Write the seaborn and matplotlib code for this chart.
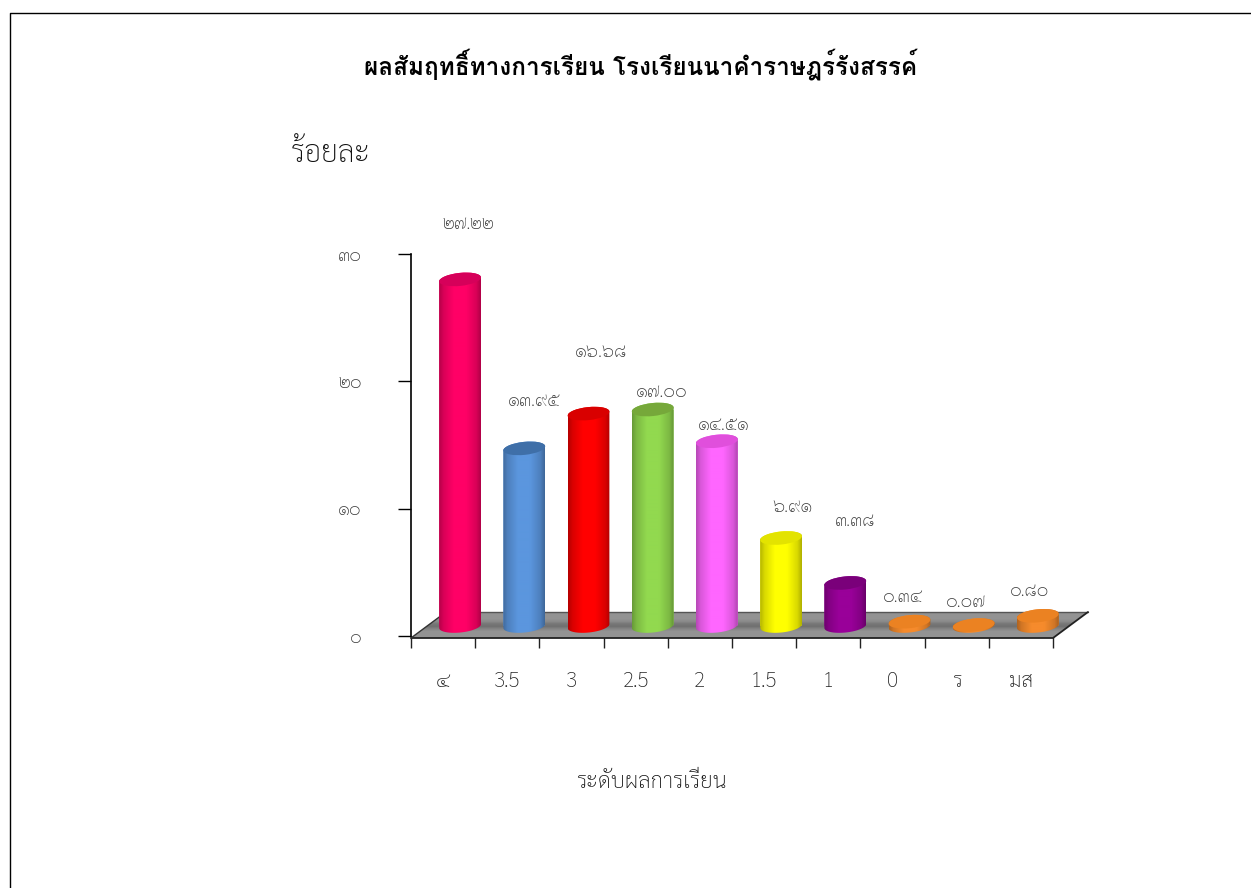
import matplotlib
matplotlib.use('Agg')
import numpy as np
import pandas as pd
import matplotlib.pyplot as plt
import seaborn as sns
from matplotlib.colors import to_rgb
from matplotlib.lines import Line2D
from matplotlib.patches import Ellipse
from matplotlib.path import Path
from matplotlib.ticker import FixedLocator
from matplotlib.transforms import Affine2D, IdentityTransform

grades = ['๔', '3.5', '3', '2.5', '2', '1.5', '1', '0', 'ร', 'มส']
percent = [27.22, 13.95, 16.68, 17.00, 14.51, 6.91, 3.38, 0.34, 0.07, 0.80]
colors = ['#FF0066', '#5B96DE', '#FF0000', '#92D94F', '#FF66FF',
          '#FFFF00', '#990099', '#F68B2C', '#F68B2C', '#F68B2C']
top_colors = ['#D6005A', '#3F6FA8', '#D90000', '#76A83A', '#E04FDC',
              '#E3E300', '#7A007A', '#EB8222', '#EB8222', '#EB8222']
y_ticks = [0, 10, 20, 30]
title = 'ผลสัมฤทธิ์ทางการเรียน โรงเรียนนาคำราษฎร์รังสรรค์'
y_title = 'ร้อยละ'
x_title = 'ระดับผลการเรียน'

# label offsets in pixels from the bar value, the original places them by hand
label_dx = [25, 27, 29, 26, 24, 28, 27, 10, 9, 9]
label_dy = [65, 57, 71, 27, 26, 41, 71, 34, 33, 34]

W, H = 1251, 888
FONT = ['Loma', 'DejaVu Sans']
THIN = ['Sarabun', 'DejaVu Sans']
BAR_DX, BAR_DY = 17, 10      # 3D shift of the bars
DEPTH_X, DEPTH_Y = 35, 26    # depth of the floor
CAP_H = 13
TILT = 6

thai_digits = str.maketrans('0123456789', '๐๑๒๓๔๕๖๗๘๙')


def thai(text):
    return text.translate(thai_digits)


sns.set_style('ticks')
plt.rcParams['font.family'] = FONT

df = pd.DataFrame({'grade': grades, 'percent': percent})

fig = plt.figure(figsize=(W / 100, H / 100), dpi=100, facecolor='white')
ax = fig.add_axes([411 / W, 1 - 636 / H, 642 / W, 382 / H])
sns.barplot(data=df, x='grade', y='percent', hue='grade', palette=colors,
            width=0.654, saturation=1, legend=False, ax=ax)
ax.set_xlim(-0.5, len(grades) - 0.5)
ax.set_ylim(0, 30)


def gradient(rgb, x0, x1, y0, y1, clip, zorder):
    im = ax.imshow(rgb, extent=(x0, x1, y0, y1), aspect='auto', origin='upper',
                   transform=IdentityTransform(), zorder=zorder,
                   interpolation='bilinear')
    im.set_clip_box(fig.bbox)
    im.set_clip_path(Path(clip), IdentityTransform())
    return im


# floor
fx0, fy0 = ax.transData.transform((-0.5, 0))
fx1, _ = ax.transData.transform((len(grades) - 0.5, 0))
fy0 -= 2
floor = [(fx0, fy0), (fx1, fy0), (fx1 + DEPTH_X, fy0 + DEPTH_Y), (fx0 + DEPTH_X, fy0 + DEPTH_Y)]
band = np.array([0.58, 0.58, 0.58, 0.55, 0.47, 0.44, 0.52, 0.58, 0.58, 0.58]).reshape(-1, 1)
gradient(np.repeat(band, 3, axis=1).reshape(-1, 1, 3), fx0, fx1 + DEPTH_X, fy0, fy0 + DEPTH_Y,
         floor + [floor[0]], 1)
line_kw = dict(transform=IdentityTransform(), clip_on=False, zorder=1.2)
ax.add_line(Line2D([floor[3][0], floor[2][0]], [floor[3][1], floor[2][1]], color='#555555', lw=1, **line_kw))
ax.add_line(Line2D([floor[0][0], floor[1][0], floor[2][0]], [floor[0][1], floor[1][1], floor[2][1]],
                   color='#222222', lw=1.3, **line_kw))
ax.add_line(Line2D([floor[0][0], floor[3][0]], [floor[0][1], floor[3][1]], color='#333333', lw=1, **line_kw))

# turn the flat bars into cylinders
theta = np.radians(TILT)
shade = np.interp(np.linspace(0, 1, 42), [0, 0.1, 0.35, 0.65, 0.9, 1], [0.72, 0.85, 1, 1, 0.85, 0.7])
for i, bar in enumerate(ax.patches):
    bar.set_edgecolor('none')
    bar.set_transform(ax.transData + Affine2D().translate(BAR_DX, BAR_DY))
    bar.set_zorder(2)
    (x0, y0) = ax.transData.transform((bar.get_x(), 0))
    (x1, y1) = ax.transData.transform((bar.get_x() + bar.get_width(), bar.get_height()))
    x0, x1 = x0 + BAR_DX, x1 + BAR_DX
    y0, y1 = y0 + BAR_DY, y1 + BAR_DY
    cx = (x0 + x1) / 2
    a, b = (x1 - x0) / 2, CAP_H / 2
    t_low = np.linspace(np.pi, 2 * np.pi, 40)
    t_top = np.linspace(0, np.pi, 40)
    low = np.column_stack([cx + a * np.cos(t_low) * np.cos(theta) - b * np.sin(t_low) * np.sin(theta),
                           y0 + a * np.cos(t_low) * np.sin(theta) + b * np.sin(t_low) * np.cos(theta)])
    top = np.column_stack([cx + a * np.cos(t_top) * np.cos(theta) - b * np.sin(t_top) * np.sin(theta),
                           y1 + a * np.cos(t_top) * np.sin(theta) + b * np.sin(t_top) * np.cos(theta)])
    outline = np.vstack([low, top, low[:1]])
    bar.set_clip_box(fig.bbox)
    bar.set_clip_path(Path(outline), IdentityTransform())
    rgb = np.array(to_rgb(colors[i]))
    body = (shade[:, None] * rgb)[None, :, :]
    gradient(body, x0, x1, y0 - CAP_H, y1 + CAP_H, outline, 2 + i * 0.01)
    ax.add_patch(Ellipse((cx, y1), 2 * a, CAP_H, angle=TILT, facecolor=top_colors[i],
                         edgecolor='none', transform=IdentityTransform(),
                         clip_on=False, zorder=2.005 + i * 0.01))

# axes
for side in ['top', 'right', 'bottom']:
    ax.spines[side].set_visible(False)
ax.spines['left'].set_color('black')
ax.spines['left'].set_linewidth(1.2)
ax.set_facecolor('none')
ax.set_xlabel('')
ax.set_ylabel('')
ax.set_yticks(y_ticks, [thai(str(t)) for t in y_ticks], fontsize=13, color='#333333',
              family=THIN, fontweight='light')
ax.tick_params(axis='y', length=9.5, width=1, pad=26, color='black')
ax.set_xticks(range(len(grades)), grades, fontsize=15, color='#222222', family=THIN, fontweight='light')
ax.xaxis.set_minor_locator(FixedLocator(np.arange(len(grades) + 1) - 0.5))
ax.tick_params(axis='x', which='major', length=0, pad=25)
ax.tick_params(axis='x', which='minor', length=8.7, width=1, pad=0, color='#222222', bottom=True)

for i, v in enumerate(percent):
    ax.annotate(thai(f'{v:.2f}'), xy=(i, v), xytext=(label_dx[i], label_dy[i]),
                textcoords='offset pixels', ha='center', va='center', fontsize=13,
                color='#333333', annotation_clip=False, zorder=5, family=THIN, fontweight='light')

fig.text(641 / W, 1 - 64 / H, title, ha='center', va='center', fontsize=17.5, fontweight='bold', color='black')
fig.text(331 / W, 1 - 154 / H, y_title, ha='center', va='center', fontsize=21.5, color='#111111',
         family=THIN, fontweight='light')
fig.text(651 / W, 1 - 782 / H, x_title, ha='center', va='center', fontsize=16, color='#111111',
         family=THIN, fontweight='light')

# slide frame
fig.add_artist(Line2D([10 / W, 10 / W, 1], [0, 1 - 13 / H, 1 - 13 / H], color='black', lw=1))

fig.savefig('out.png', dpi=100)
